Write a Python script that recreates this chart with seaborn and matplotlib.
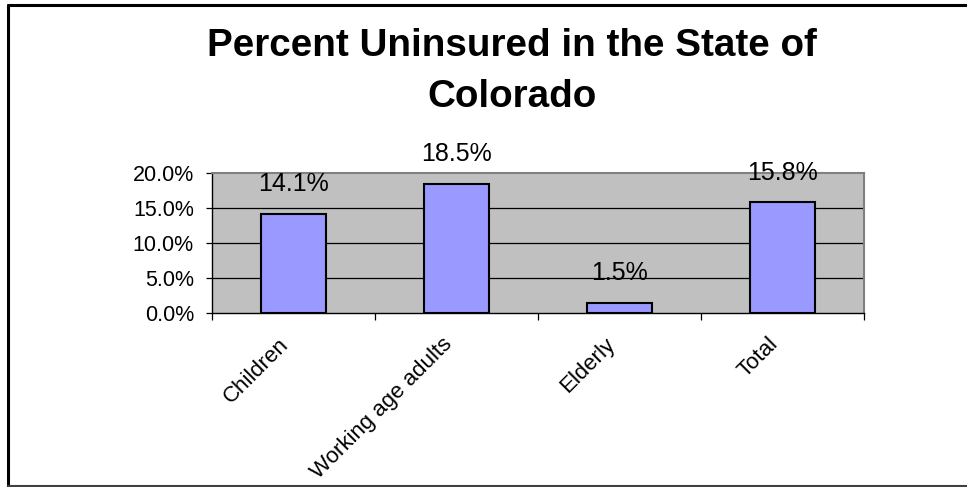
import matplotlib
matplotlib.use("Agg")
import matplotlib.pyplot as plt
import matplotlib.transforms as mtransforms
from matplotlib.lines import Line2D
import seaborn as sns
import pandas as pd

# Data
categories = ["Children", "Working age adults", "Elderly", "Total"]
pct_uninsured = [14.1, 18.5, 1.5, 15.8]
y_ticks = [0, 5, 10, 15, 20]

df = pd.DataFrame({"group": categories, "pct": pct_uninsured})

sns.set_style("white")
plt.rcParams["font.family"] = ["Liberation Sans", "DejaVu Sans"]
plt.rcParams["text.color"] = "black"
plt.rcParams["xtick.color"] = "black"
plt.rcParams["ytick.color"] = "black"

W, H = 967, 487
fig = plt.figure(figsize=(W / 100, H / 100), dpi=100)
ax = fig.add_axes([212 / W, 1 - 313 / H, (864 - 212) / W, (313 - 173) / H])
ax.set_facecolor("#C0C0C0")

sns.barplot(data=df, x="group", y="pct", color="#9999FF", width=0.4,
            edgecolor="black", linewidth=1.5, saturation=1, ax=ax, zorder=3)

ax.set_xlim(-0.5, len(categories) - 0.5)
ax.set_ylim(0, 20)
ax.set_xlabel("")
ax.set_ylabel("")

# gridlines
for yv in y_ticks[1:-1]:
    ax.axhline(yv, color="black", lw=0.9, zorder=1)

# y axis
ax.set_yticks(y_ticks)
ax.set_yticklabels([f"{v:.1f}%" for v in y_ticks], fontsize=15.5)
ax.tick_params(axis="y", which="major", direction="out", length=4, width=0.9,
               color="black", pad=9, left=True)

# x axis: ticks on category boundaries, labels at centres
ax.set_xticks(range(len(categories)))
ax.set_xticklabels(categories, rotation=45, ha="right", rotation_mode="anchor",
                   fontsize=16)
ax.tick_params(axis="x", which="major", length=0, pad=15)
ax.set_xticks([i - 0.5 for i in range(len(categories) + 1)], minor=True)
ax.tick_params(axis="x", which="minor", direction="out", length=5, width=0.9,
               color="black", bottom=True)
shift = mtransforms.ScaledTranslation(-15 / 100, 0, fig.dpi_scale_trans)
for lab in ax.get_xticklabels():
    lab.set_transform(lab.get_transform() + shift)

for side in ["top", "right"]:
    ax.spines[side].set_color("#808080")
    ax.spines[side].set_linewidth(1.5)
for side in ["left", "bottom"]:
    ax.spines[side].set_color("black")
    ax.spines[side].set_linewidth(1.0)

# value labels
for i, v in enumerate(pct_uninsured):
    ax.annotate(f"{v}%", (i, v), xytext=(0, 21.5), textcoords="offset points",
                ha="center", va="center", fontsize=18, color="black", zorder=4)

# title
fig.text(512 / W, 1 - 46 / H, "Percent Uninsured in the State of", ha="center",
         va="center", fontsize=27.8, fontweight="bold", color="black")
fig.text(512 / W, 1 - 97 / H, "Colorado", ha="center", va="center",
         fontsize=27.8, fontweight="bold", color="black")

# outer frame
fig.add_artist(Line2D([8 / W, 1], [1 - 5 / H, 1 - 5 / H], color="black",
                      lw=2.2, transform=fig.transFigure))
fig.add_artist(Line2D([8 / W, 8 / W], [0, 1 - 5 / H], color="black",
                      lw=2.2, transform=fig.transFigure))
fig.add_artist(Line2D([8 / W, 1], [1 - 486 / H, 1 - 486 / H], color="#404040",
                      lw=1.5, transform=fig.transFigure))

fig.savefig("out.png", dpi=100)
